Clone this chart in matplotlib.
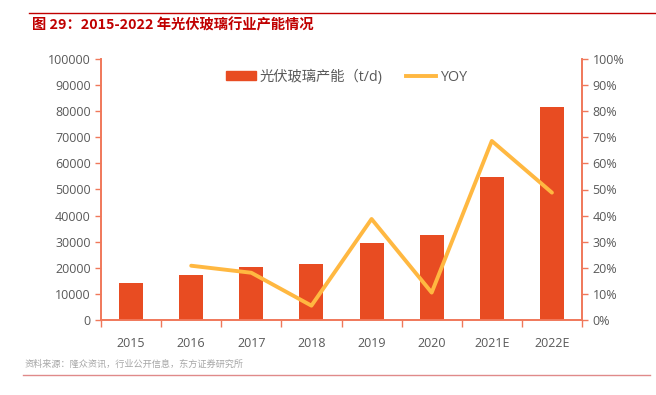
import matplotlib.pyplot as plt
import numpy as np
from matplotlib.lines import Line2D
from matplotlib.ticker import FuncFormatter, MultipleLocator

plt.rcParams["font.family"] = ["Open Sans", "Noto Sans CJK SC", "DejaVu Sans"]
plt.rcParams["axes.unicode_minus"] = False

# 数据
years = ["2015", "2016", "2017", "2018", "2019", "2020", "2021E", "2022E"]
capacity = [14100, 17200, 20300, 21300, 29600, 32600, 54900, 81600]
yoy_years = ["2016", "2017", "2018", "2019", "2020", "2021E", "2022E"]
yoy = [20.8, 18.1, 5.5, 38.7, 10.5, 68.6, 48.8]

bar_color = "#E84C22"
line_color = "#FFB841"
axis_color = "#F0785A"
text_color = "#595959"

fig = plt.figure(figsize=(6.56, 3.95), dpi=100)
ax = fig.add_axes([101 / 656, 1 - 320 / 395, (582 - 101) / 656, (320 - 59) / 395])
ax2 = ax.twinx()

x = np.arange(len(years))
ax.bar(x, capacity, width=0.4, color=bar_color, zorder=2)
xi = [years.index(y) for y in yoy_years]
ax2.plot(xi, yoy, color=line_color, linewidth=2.8, solid_capstyle="round", zorder=3)

ax.set_xlim(-0.5, len(years) - 0.5)
ax.set_ylim(0, 100000)
ax2.set_ylim(0, 100)
ax.yaxis.set_major_locator(MultipleLocator(10000))
ax2.yaxis.set_major_locator(MultipleLocator(10))
ax2.yaxis.set_major_formatter(FuncFormatter(lambda v, p: f"{v:.0f}%"))

# x轴: 标签居中, 刻度在分界处
ax.set_xticks(x)
ax.set_xticklabels(years)
ax.set_xticks(np.arange(-0.5, len(years)), minor=True)
ax.tick_params(axis="x", which="major", length=0, pad=12, labelsize=9, labelcolor=text_color)
ax.tick_params(axis="x", which="minor", length=5, width=1, color=axis_color, direction="out")
ax.tick_params(axis="y", length=4, width=1, color=axis_color, labelsize=9, labelcolor=text_color)
ax2.tick_params(axis="y", length=4, width=1, color=axis_color, labelsize=9, labelcolor=text_color)

for a in (ax, ax2):
    a.spines["top"].set_visible(False)
    for s in ("left", "right", "bottom"):
        a.spines[s].set_color(axis_color)
        a.spines[s].set_linewidth(1.2)

ax.set_zorder(ax2.get_zorder() - 1)
ax2.patch.set_visible(False)

# 图例
handles = [
    plt.Rectangle((0, 0), 1, 1, color=bar_color),
    Line2D([0], [0], color=line_color, linewidth=2.8),
]
leg = ax.legend(
    handles,
    ["光伏玻璃产能（t/d)", "YOY"],
    loc="upper center",
    bbox_to_anchor=(0.51, 1.01),
    ncol=2,
    frameon=False,
    fontsize=10.3,
    handlelength=2.1,
    handleheight=0.6,
    columnspacing=1.6,
    handletextpad=0.3,
)
for t in leg.get_texts():
    t.set_color(text_color)

# 标题和来源
fig.add_artist(Line2D([29 / 656, 1.0], [1 - 13 / 395, 1 - 13 / 395], color="#C00000", linewidth=1))
fig.text(32 / 656, 1 - 25 / 395, "图 29：2015-2022 年光伏玻璃行业产能情况",
         color="#C00000", fontsize=10.3, fontweight="bold", va="center",
         family=["Noto Sans CJK SC", "DejaVu Sans"])
fig.text(25 / 656, 1 - 364 / 395, "资料来源：隆众资讯，行业公开信息，东方证券研究所",
         color="#A6A6A6", fontsize=6.6, va="center",
         family=["Noto Sans CJK SC", "DejaVu Sans"])
fig.add_artist(Line2D([23 / 656, 650 / 656], [1 - 375 / 395, 1 - 375 / 395], color="#E08A8A", linewidth=1))

plt.savefig("out.png", dpi=100)
